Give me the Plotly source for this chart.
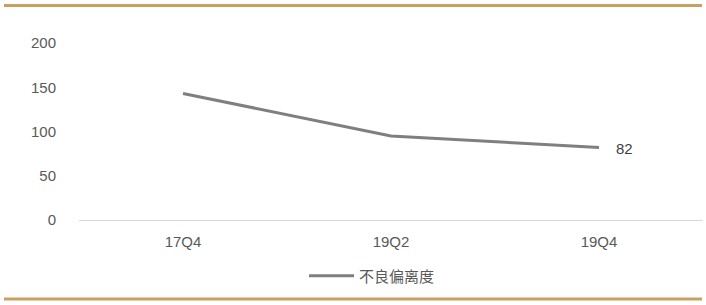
import plotly.graph_objects as go

categories = ["17Q4", "19Q2", "19Q4"]
values = [143, 95, 82]
series_name = "不良偏离度"
y_ticks = [0, 50, 100, 150, 200]

W, H = 706, 305
L, R, T, B = 79, 3, 43, 85
pw, ph = W - L - R, H - T - B

def px_x(x):
    return (x - L) / pw

def px_y(y):
    return (H - B - y) / ph

fig = go.Figure()
fig.add_trace(go.Scatter(
    x=categories, y=values, mode="lines", name=series_name,
    line=dict(color="#7f7f7f", width=3),
))
fig.add_annotation(x=categories[-1], y=values[-1], text=str(values[-1]), showarrow=False,
                   xanchor="left", yanchor="middle", xshift=15, yshift=-1,
                   font=dict(size=15, color="#404040", family="Liberation Sans, Arial"))

gold = "#C9A062"
fig.add_shape(type="line", xref="paper", yref="paper", x0=px_x(4), x1=px_x(702), y0=px_y(5.5), y1=px_y(5.5),
              line=dict(color=gold, width=3))
fig.add_shape(type="line", xref="paper", yref="paper", x0=px_x(4), x1=px_x(702), y0=px_y(299), y1=px_y(299),
              line=dict(color=gold, width=3))

fig.update_layout(
    width=W, height=H, margin=dict(l=L, r=R, t=T, b=B),
    paper_bgcolor="white", plot_bgcolor="white",
    font=dict(family="Liberation Sans, Arial", size=15, color="#595959"),
    showlegend=True,
    legend=dict(orientation="h", x=px_x(372), y=px_y(276), xanchor="center", yanchor="middle",
                itemwidth=45,
                font=dict(family="Noto Sans CJK SC", size=15, color="#595959"),
                bgcolor="rgba(0,0,0,0)"),
    xaxis=dict(type="category", range=[-0.5, 2.5], showgrid=False, showline=True,
               linecolor="#d9d9d9", linewidth=1, ticks="", ticklabelstandoff=8, fixedrange=True),
    yaxis=dict(range=[0, 200], tickvals=y_ticks, showgrid=False, zeroline=False, showline=False,
               ticks="", ticklabelstandoff=22),
)

fig.write_html("out.html")
